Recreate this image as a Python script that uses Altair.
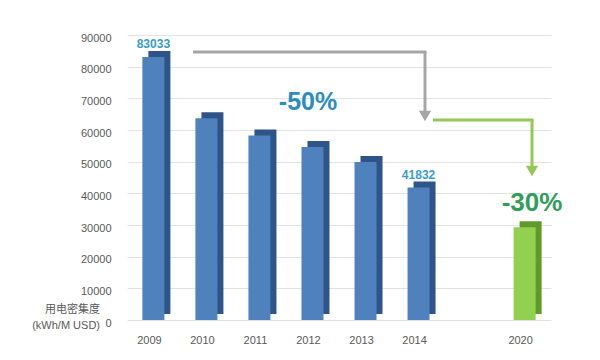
import altair as alt
import pandas as pd

years = ["2009", "2010", "2011", "2012", "2013", "2014", "2020"]
values = [83033, 63700, 58300, 54600, 49900, 41832, 29283]
front_colors = ["#4F81BD", "#4F81BD", "#4F81BD", "#4F81BD", "#4F81BD", "#4F81BD", "#92D050"]
side_colors = ["#2E5489", "#2E5489", "#2E5489", "#2E5489", "#2E5489", "#2E5489", "#5E9A2C"]
value_labels = ["83033", "", "", "", "", "41832", ""]
x_domain = ["2009", "2010", "2011", "2012", "2013", "2014", "gap", "2020"]
y_ticks = [0, 10000, 20000, 30000, 40000, 50000, 60000, 70000, 80000, 90000]

df = pd.DataFrame({"year": years, "value": values, "front": front_colors,
                   "side": side_colors, "lab": value_labels})

FONT = "Liberation Sans"
GRAY = "#595959"

xenc = alt.X("year:N", scale=alt.Scale(domain=x_domain, paddingInner=0.585, paddingOuter=0.29),
             axis=alt.Axis(title=None, labelExpr="datum.label == 'gap' ? '' : datum.label",
                           domain=False, ticks=False, labelPadding=14, labelOffset=-4,
                           labelFontSize=11, labelColor=GRAY, labelFont=FONT, labelAngle=0))
yenc = alt.Y("value:Q", scale=alt.Scale(domain=[0, 90000], nice=False),
             axis=alt.Axis(title=None, values=y_ticks, format="d", domain=False, ticks=False,
                           labelPadding=16, labelOffset=3, labelFontSize=11, labelColor=GRAY,
                           labelFont=FONT, grid=True, gridColor="#E2E2E2", gridWidth=1))

base = alt.Chart(df)
side = base.mark_bar(xOffset=6, yOffset=-6).encode(
    x=xenc, y=yenc, color=alt.Color("side:N", scale=None))
front = base.mark_bar().encode(x=xenc, y=yenc, color=alt.Color("front:N", scale=None))
vlab = base.mark_text(dy=-13, fontSize=12, fontWeight="bold", color="#3A9AD0", font=FONT).encode(
    x=xenc, y=yenc, text="lab:N")

one = alt.Chart(pd.DataFrame({"a": [0]}))
gray = "#A6A6A6"
green = "#92C955"
g_h = one.mark_rule(color=gray, strokeWidth=3).encode(
    x=alt.value(66), x2=alt.value(299.5), y=alt.value(17), y2=alt.value(17))
g_v = one.mark_rule(color=gray, strokeWidth=3).encode(
    x=alt.value(298), x2=alt.value(298), y=alt.value(17), y2=alt.value(78))
g_a = one.mark_point(shape="triangle-down", filled=True, size=150, color=gray, opacity=1).encode(
    x=alt.value(298), y=alt.value(81))
n_h = one.mark_rule(color=green, strokeWidth=3).encode(
    x=alt.value(306), x2=alt.value(406.5), y=alt.value(85), y2=alt.value(85))
n_v = one.mark_rule(color=green, strokeWidth=3).encode(
    x=alt.value(405), x2=alt.value(405), y=alt.value(85), y2=alt.value(133))
n_a = one.mark_point(shape="triangle-down", filled=True, size=150, color=green, opacity=1).encode(
    x=alt.value(405), y=alt.value(136))

t50 = one.mark_text(text="-50%", fontSize=25, fontWeight="bold", color="#2B8CC4", font=FONT).encode(
    x=alt.value(181), y=alt.value(67))
t30 = one.mark_text(text="-30%", fontSize=26, fontWeight="bold", color="#2F9E5A", font=FONT).encode(
    x=alt.value(405), y=alt.value(168))
ttl1 = one.mark_text(text="用电密集度", fontSize=11, color=GRAY, align="right",
                     font="Noto Sans CJK SC").encode(x=alt.value(-27), y=alt.value(275))
ttl2 = one.mark_text(text="(kWh/M USD)", fontSize=11, color=GRAY, align="right",
                     font=FONT).encode(x=alt.value(-27), y=alt.value(291))

chart = alt.layer(side, front, vlab, g_h, g_v, g_a, n_h, n_v, n_a, t50, t30, ttl1, ttl2).properties(
    width=424, height=285, autosize="none",
    padding={"left": 127, "top": 35, "right": 49, "bottom": 40},
    background="white"
).configure_view(stroke=None)

chart.save("out.html", embed_options={"renderer": "svg", "actions": False})
